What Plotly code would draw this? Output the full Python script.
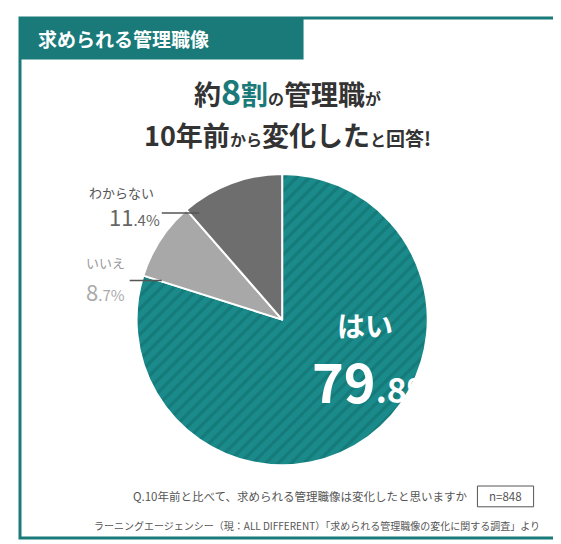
import plotly.graph_objects as go

labels = ["はい", "いいえ", "わからない"]
values = [79.8, 8.7, 11.4]
colors = ["#1a8a8a", "#a8a8a8", "#6e6e6e"]

fig = go.Figure()
fig.add_trace(go.Pie(
    labels=labels, values=values, sort=False, direction="clockwise", rotation=0,
    marker=dict(colors=colors, line=dict(color="white", width=2),
                pattern=dict(shape=["/", "", ""], bgcolor=colors, fgcolor="#157a7a",
                             size=9, solidity=0.35)),
    textinfo="none", hoverinfo="label+percent", showlegend=False,
    domain=dict(x=[0.215, 0.765], y=[0.14, 0.70]),
))

font = "Noto Sans CJK JP"
teal = "#1a7a7a"
shapes = [
    dict(type="rect", xref="paper", yref="paper", x0=0.0, x1=1.0, y0=0.0, y1=1.0,
         line=dict(color=teal, width=3)),
    dict(type="rect", xref="paper", yref="paper", x0=0.0, x1=0.53, y0=0.92, y1=1.0,
         line=dict(width=0), fillcolor=teal),
    dict(type="line", xref="paper", yref="paper", x0=0.265, x1=0.335, y0=0.625, y1=0.625,
         line=dict(color="#555", width=1.5)),
    dict(type="line", xref="paper", yref="paper", x0=0.205, x1=0.265, y0=0.495, y1=0.495,
         line=dict(color="#555", width=1.5)),
    dict(type="rect", xref="paper", yref="paper", x0=0.855, x1=0.96, y0=0.06, y1=0.1,
         line=dict(color="#555", width=1)),
]
ann = [
    dict(x=0.03, y=0.96, text="<b>求められる管理職像</b>", font=dict(size=19, color="white"), xanchor="left"),
    dict(x=0.5, y=0.86, text="<b>約<span style='font-size:34px;color:#1a7a7a'>8</span><span style='color:#1a7a7a'>割</span><span style='font-size:16px'>の</span>管理職<span style='font-size:16px'>が</span></b>",
         font=dict(size=27, color="#333")),
    dict(x=0.5, y=0.775, text="<b>10年前<span style='font-size:16px'>から</span>変化した<span style='font-size:16px'>と</span><span style='font-size:19px'>回答!</span></b>",
         font=dict(size=27, color="#333")),
    dict(x=0.255, y=0.665, text="わからない", font=dict(size=13, color="#555"), xanchor="right"),
    dict(x=0.265, y=0.62, text="11<span style='font-size:15px'>.4%</span>", font=dict(size=22, color="#666"), xanchor="right"),
    dict(x=0.2, y=0.53, text="いいえ", font=dict(size=13, color="#999"), xanchor="right"),
    dict(x=0.2, y=0.475, text="8<span style='font-size:15px'>.7%</span>", font=dict(size=22, color="#aaa"), xanchor="right"),
    dict(x=0.645, y=0.41, text="<b>はい</b>", font=dict(size=28, color="white")),
    dict(x=0.665, y=0.305, text="<b>79<span style='font-size:34px'>.8%</span></b>", font=dict(size=54, color="white")),
    dict(x=0.84, y=0.08, text="Q.10年前と比べて、求められる管理職像は変化したと思いますか", font=dict(size=11.5, color="#555"), xanchor="right"),
    dict(x=0.907, y=0.08, text="n=848", font=dict(size=11.5, color="#555")),
    dict(x=0.975, y=0.025, text="ラーニングエージェンシー（現：ALL DIFFERENT）「求められる管理職像の変化に関する調査」より",
         font=dict(size=10, color="#555"), xanchor="right"),
]
for a in ann:
    a.update(xref="paper", yref="paper", showarrow=False, yanchor="middle")
    a.setdefault("xanchor", "center")

fig.update_layout(
    width=561, height=544, margin=dict(l=12, r=14, t=10, b=14),
    paper_bgcolor="white", plot_bgcolor="white",
    font=dict(family=font), shapes=shapes, annotations=ann,
)
fig.write_html("out.html")
